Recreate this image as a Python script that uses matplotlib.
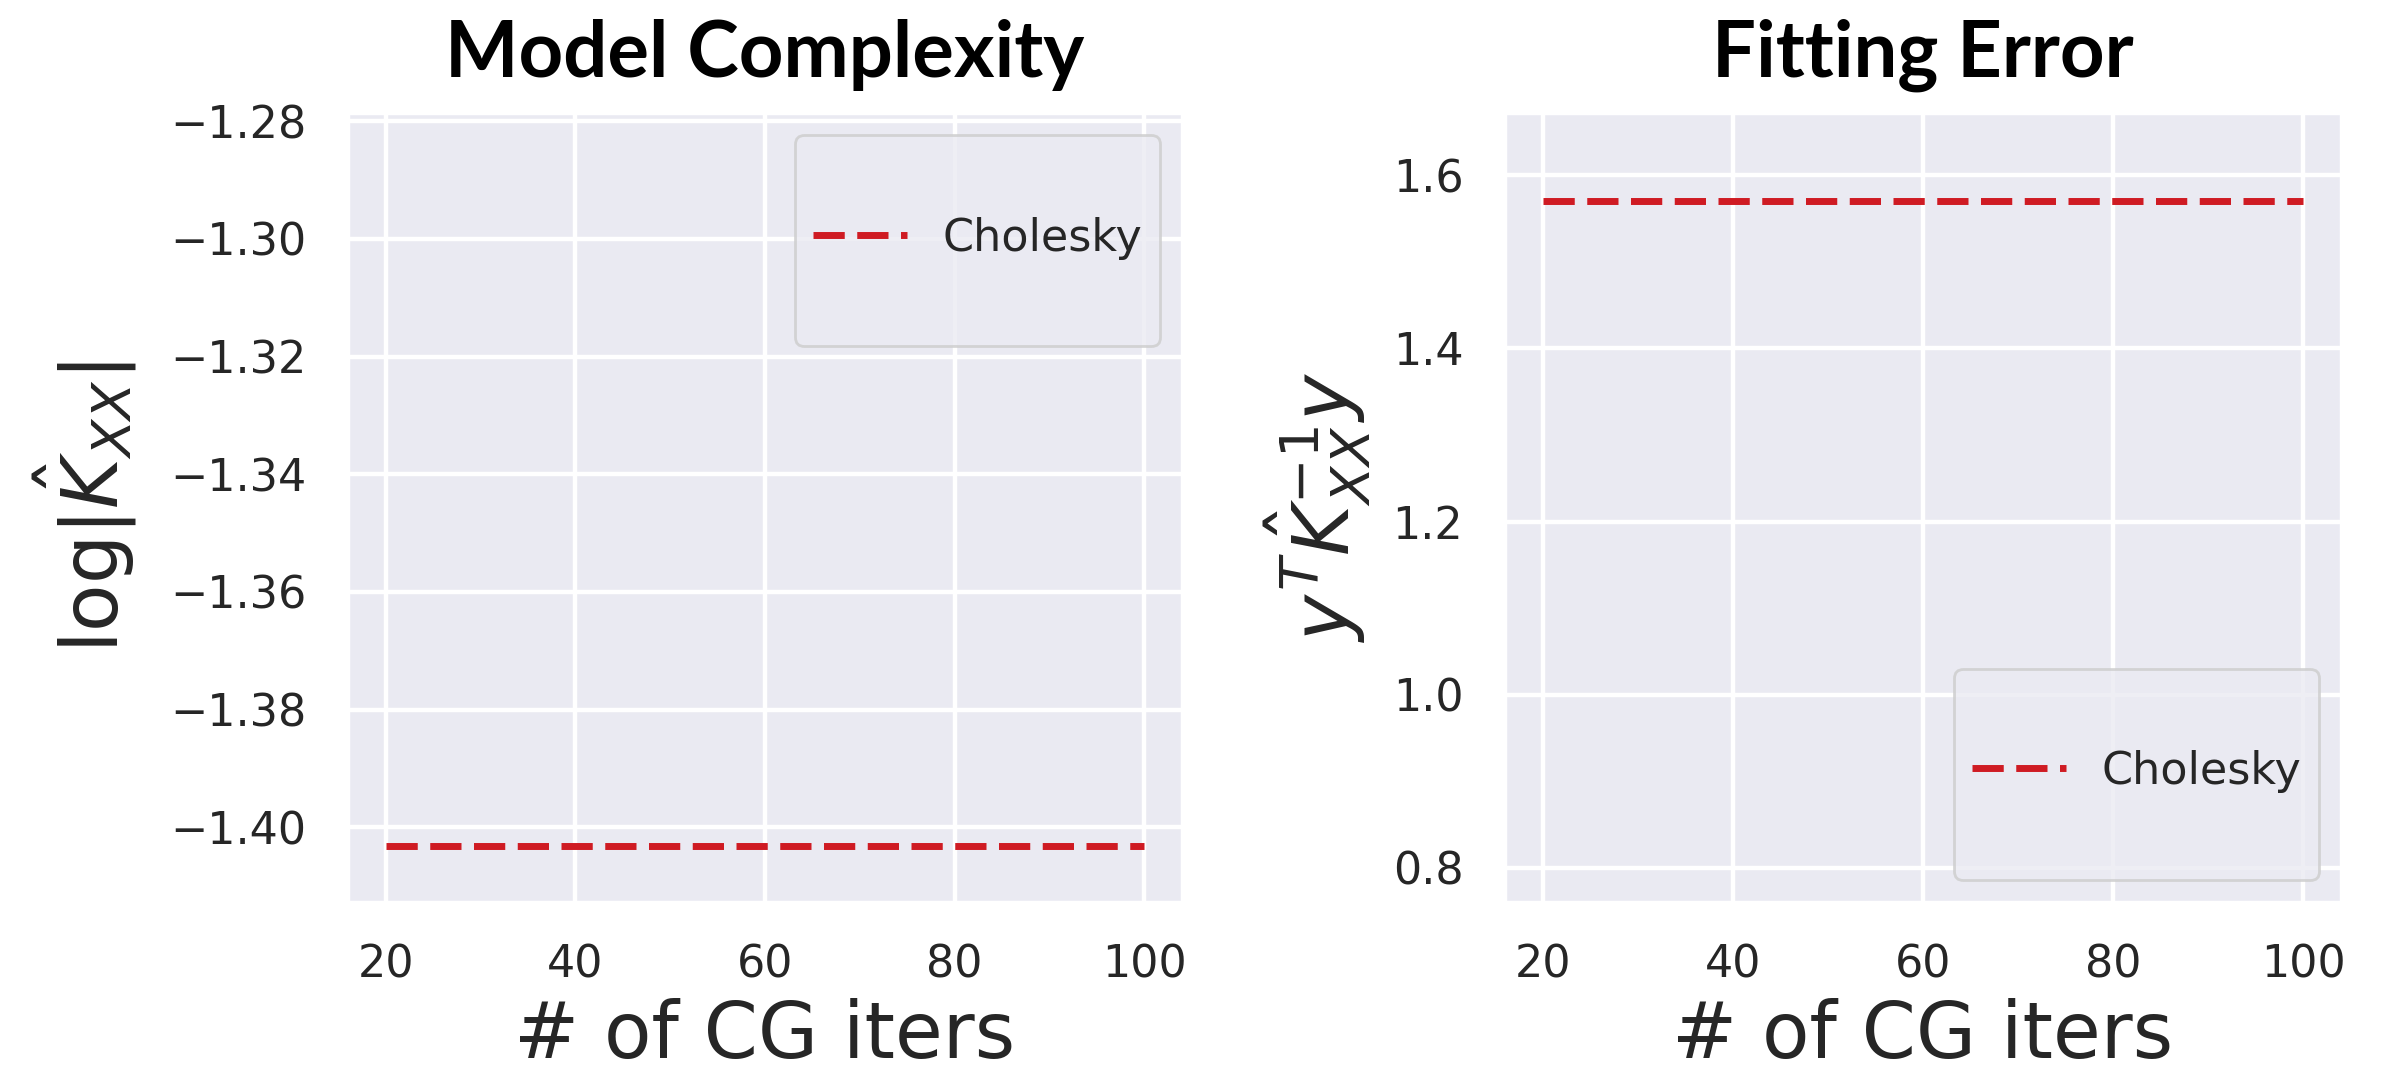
import numpy as np
import matplotlib
matplotlib.use('Agg')
import matplotlib.pyplot as plt
import seaborn as sns

# data
cg_iters = [20, 30, 40, 50, 60, 70, 80, 90, 100]
logdet_chol = [-1.4032] * len(cg_iters)
fit_chol = [1.570] * len(cg_iters)

xticks = [20, 40, 60, 80, 100]
left_yticks = [-1.28, -1.30, -1.32, -1.34, -1.36, -1.38, -1.40]
right_yticks = [0.8, 1.0, 1.2, 1.4, 1.6]

sns.set_theme(style='darkgrid')
plt.rcParams['font.family'] = ['DejaVu Sans']
plt.rcParams['grid.linewidth'] = 1.6

red = '#cf1b23'

fig = plt.figure(figsize=(12.015, 5.355), dpi=200)
ax1 = fig.add_axes([0.1448, 0.1578, 0.3471, 0.7367])
ax2 = fig.add_axes([0.6263, 0.1578, 0.3479, 0.7367])

ax1.plot(cg_iters, logdet_chol, color=red, linestyle='--', linewidth=2.5,
         dashes=(4.5, 1.8), label='Cholesky')
ax2.plot(cg_iters, fit_chol, color=red, linestyle='--', linewidth=2.5,
         dashes=(4.5, 1.8), label='Cholesky')

ax1.set_ylim(-1.4127, -1.2786)
ax2.set_ylim(0.7607, 1.6717)
ax1.set_yticks(left_yticks)
ax2.set_yticks(right_yticks)
ax1.set_yticklabels([f'{v:.2f}'.replace('-', '\u2212') for v in left_yticks])
ax2.set_yticklabels([f'{v:.1f}' for v in right_yticks])

for ax in (ax1, ax2):
    ax.set_xticks(xticks)
    ax.tick_params(axis='both', labelsize=16, pad=9, colors='.15')
    ax.set_xlabel('# of CG iters', fontsize=28, color='.15', labelpad=4)

ax1.set_ylabel(r'$\log|\hat{K}_{XX}|$', fontsize=28, color='.15', labelpad=11)
ax2.set_ylabel(r'$y^T\hat{K}_{XX}^{-1}y$', fontsize=28, color='.15', labelpad=7)

ax1.set_title('Model Complexity', fontsize=28, fontweight='bold',
              family='Lato', color='black', pad=13)
ax2.set_title('Fitting Error', fontsize=28, fontweight='bold',
              family='Lato', color='black', pad=13)

legs = [ax1.legend(loc='upper right', fontsize=16, handleheight=5.7,
                   handlelength=2.1, borderaxespad=0.5),
        ax2.legend(loc='lower right', fontsize=16, handleheight=5.7,
                   handlelength=2.1, borderaxespad=0.5)]
# centre the legend handle on the label text
for leg in legs:
    for ln in leg.get_lines():
        y = np.asarray(ln.get_ydata(), dtype=float)
        ln.set_ydata(y - 11.8)

fig.savefig('out.png', dpi=200)
